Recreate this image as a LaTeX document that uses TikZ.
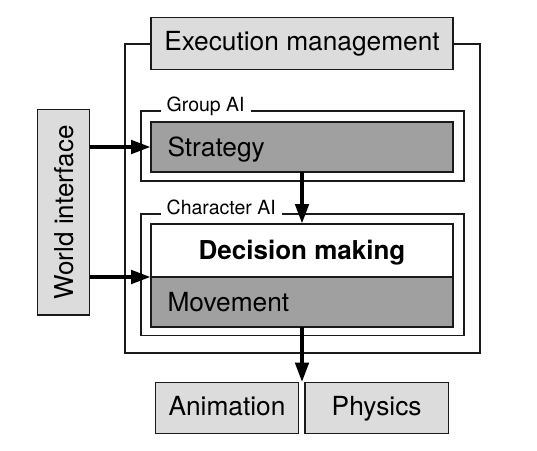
\documentclass[tikz,border=0pt]{standalone}
\usepackage{fontspec}
\setmainfont{TeX Gyre Heros}
\usetikzlibrary{arrows.meta}
\definecolor{lightbox}{HTML}{DCDCDC}
\definecolor{darkbox}{HTML}{A0A0A0}
\definecolor{ink}{HTML}{1A1A1A}
\tikzset{
  frame/.style={draw=ink, line width=1.3pt, outer sep=0pt, inner sep=0pt, anchor=north west},
  lightnode/.style={frame, fill=lightbox, font=\fontsize{26.3}{31}\selectfont, text height=19pt, text depth=5pt},
  darknode/.style={frame, fill=darkbox, font=\fontsize{26.3}{31}\selectfont, text height=19pt, text depth=0pt,
     inner xsep=16.5pt, text width=269pt, align=left},
  boldnode/.style={frame, fill=white, line width=2.8pt, font=\bfseries\fontsize{26}{31}\selectfont, text height=18.5pt, text depth=0pt},
  grouplabel/.style={fill=white, inner xsep=6pt, inner ysep=2pt, outer sep=0pt, anchor=base west, font=\fontsize{19.5}{23}\selectfont},
  arr/.style={draw=black, line width=4.5pt, -{Triangle[length=20pt,width=13pt]}}
}
\begin{document}
\begin{tikzpicture}[x=1pt, y=-1pt]
\useasboundingbox (0,0) rectangle (537,450);
% outer frame and execution management
\node[frame, minimum width=355pt, minimum height=309pt] (outer) at (125,44) {};
\node[lightnode, minimum width=302pt, minimum height=52pt] (exec) at (151,17.5) {Execution management};
% world interface
\node[lightnode, minimum width=52pt, minimum height=205.5pt] (worldbox) at (37.5,109.5) {};
\node[font=\fontsize{26}{31}\selectfont, rotate=90, text height=19pt, text depth=0pt, inner sep=0pt] (world) at (worldbox.center) {World interface};
% group AI
\node[frame, minimum width=323pt, minimum height=70pt] (group) at (141,111) {};
\node[grouplabel] (grouplbl) at (160.7,111) {Group AI};
\node[darknode, minimum height=50pt] (strategy) at (151,122) {Strategy};
% character AI
\node[frame, minimum width=323pt, minimum height=121.5pt] (character) at (141,214) {};
\node[grouplabel] (charlbl) at (160.7,214) {Character AI};
\node[darknode, minimum height=50pt] (movement) at (151,277) {Movement};
\node[boldnode, minimum width=302pt, minimum height=53pt] (decision) at (151,224) {Decision making};
% outputs
\node[lightnode, minimum width=142.6pt, minimum height=51pt] (animation) at (155.7,382.5) {Animation};
\node[lightnode, minimum width=143.3pt, minimum height=51pt] (physics) at (305,382.5) {Physics};
% arrows
\draw[arr] (worldbox.east |- strategy.west) -- (strategy.west);
\draw[arr] (worldbox.east |- decision.south west) -- (decision.south west);
\draw[arr] (strategy.south) -- (decision.north);
\draw[arr] (movement.south) -- (movement.south |- animation.north);
\end{tikzpicture}
\end{document}
